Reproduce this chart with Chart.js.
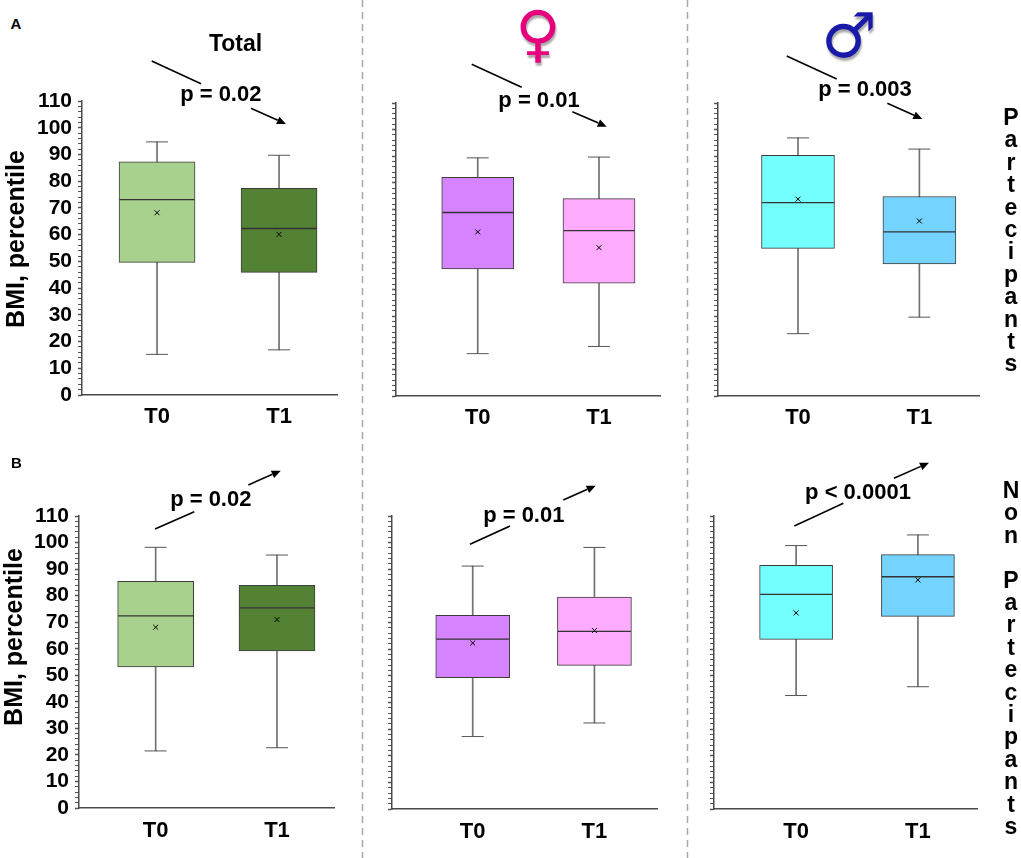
<!DOCTYPE html>
<html><head><meta charset="utf-8">
<script src="https://cdn.jsdelivr.net/npm/chart.js@4.4.1/dist/chart.umd.min.js"></script>
<style>
html,body{margin:0;padding:0;background:#fff;}
#root{position:relative;width:1021px;height:858px;overflow:hidden;font-family:"Liberation Sans",Arial,sans-serif;background:#fff;}
canvas{position:absolute;}
.t{position:absolute;font-weight:bold;color:#000;white-space:nowrap;transform:translate(-50%,-50%);line-height:1;}
.v{position:absolute;font-weight:bold;color:#000;writing-mode:vertical-rl;text-orientation:upright;font-size:23px;letter-spacing:-3.6px;line-height:24px;white-space:pre;}
svg{position:absolute;left:0;top:0;pointer-events:none;}
</style></head><body><div id="root"></div>
<script>
// ---------- data ----------
const categories = ['T0', 'T1'];
const yTickLabels = ['0','10','20','30','40','50','60','70','80','90','100','110'];
const panelNames = ['Partecipants Total','Partecipants Female','Partecipants Male','Non Partecipants Total','Non Partecipants Female','Non Partecipants Male'];
const whiskerLow  = [[15.2,16.9],[15.9,18.6],[23.4,29.6],[21.5,22.7],[27.2,32.3],[42.6,45.9]];
const quartile1   = [[49.6,45.9],[47.7,42.4],[55.4,49.6],[53.1,59.2],[49.3,53.9],[63.7,72.3]];
const medians     = [[73.1,62.3],[68.9,62.1],[72.6,61.6],[72.4,75.4],[63.8,66.7],[80.6,87.2]];
const quartile3   = [[87.2,77.3],[82.1,74.1],[90.4,74.9],[85.4,83.9],[72.7,79.6],[91.5,95.5]];
const whiskerHigh = [[94.7,89.7],[89.4,89.7],[96.9,92.7],[98.2,95.3],[91.2,98.2],[98.9,102.9]];
const means       = [[68.2,60.1],[61.6,55.7],[73.9,65.7],[68.1,71.0],[62.3,67.0],[73.6,86.0]];
const pLabels = ['p = 0.02','p = 0.01','p = 0.003','p = 0.02','p = 0.01','p < 0.0001'];

// ---------- layout / style ----------
const FONT = '"Liberation Sans", Arial, sans-serif';
const greens = ['#a9d18e','#548235'], violets = ['#d683ff','#ffacff'], blues = ['#74ffff','#75d4ff'];
const layouts = [
  {area:[82,101,337,395], xMin:-0.615, xMax:1.475, labels:true,  boxW:76, colors:greens, xPad:1},
  {area:[396,103,660,396], xMin:-0.674, xMax:1.503, labels:false, boxW:72, colors:violets, xPad:1},
  {area:[718,103,979,396], xMin:-0.659, xMax:1.491, labels:false, boxW:73, colors:blues, xPad:1},
  {area:[79,516,334,808], xMin:-0.632, xMax:1.470, labels:true,  boxW:76, colors:greens, xPad:2},
  {area:[392,516,657,809], xMin:-0.663, xMax:1.514, labels:false, boxW:74, colors:violets, xPad:2},
  {area:[714,516,977,809], xMin:-0.674, xMax:1.485, labels:false, boxW:73, colors:blues, xPad:2}
];
const root = document.getElementById('root');
const PT = 46, PR = 46, HX = 46;

layouts.forEach((L, i) => {
  const wy = L.labels ? 62 : 46;
  const [l, t, r, b] = L.area;
  const cv = document.createElement('canvas');
  const cw = (r - l) + wy + PR, ch = (b - t) + PT + HX;
  cv.width = cw; cv.height = ch;
  cv.style.left = (l - wy) + 'px'; cv.style.top = (t - PT) + 'px';
  cv.style.width = cw + 'px'; cv.style.height = ch + 'px';
  cv.setAttribute('aria-label', panelNames[i]);
  root.appendChild(cv);
  const pts = arr => categories.map((c, k) => ({x: k, y: arr[i][k]}));
  new Chart(cv, {
    type: 'bar',
    data: {datasets: [
      {type:'bar', label:'whisker', data: categories.map((c,k)=>({x:k, y:[whiskerLow[i][k], whiskerHigh[i][k]]})),
        backgroundColor:'#707070', borderWidth:0, barThickness:1, grouped:false, order:4},
      {type:'bar', label:'box', data: categories.map((c,k)=>({x:k, y:[quartile1[i][k], quartile3[i][k]]})),
        backgroundColor:L.colors, borderColor:'#3c3c3c', borderWidth:1, borderSkipped:false, barThickness:L.boxW, grouped:false, order:3},
      {type:'line', label:'capHigh', data: pts(whiskerHigh), showLine:false, pointStyle:'line', pointRadius:11, pointHoverRadius:11,
        pointBorderColor:'#555', pointBorderWidth:1, order:2},
      {type:'line', label:'capLow', data: pts(whiskerLow), showLine:false, pointStyle:'line', pointRadius:11, pointHoverRadius:11,
        pointBorderColor:'#555', pointBorderWidth:1, order:2},
      {type:'line', label:'median', data: pts(medians), showLine:false, pointStyle:'line', pointRadius:L.boxW/2 - 0.5, pointHoverRadius:L.boxW/2 - 0.5,
        pointBorderColor:'#333', pointBorderWidth:1.3, order:1},
      {type:'line', label:'mean', data: pts(means), showLine:false, pointStyle:'crossRot', pointRadius:3.5, pointHoverRadius:3.5,
        pointBorderColor:'#000', pointBorderWidth:1, order:0}
    ]},
    options: {
      responsive:false, maintainAspectRatio:false, animation:false,
      layout:{padding:{top:PT, right:PR, left:0, bottom:0}},
      plugins:{legend:{display:false}, tooltip:{enabled:false}},
      scales:{
        x:{type:'linear', min:L.xMin, max:L.xMax, offset:false,
          afterBuildTicks: s => { s.ticks = categories.map((c,k)=>({value:k})); },
          afterFit: s => { s.height = HX; },
          ticks:{callback: v => categories[v] ?? '', autoSkip:false, maxRotation:0, padding:L.xPad, color:'#000',
            font:{family:FONT, size:22, weight:'bold'}},
          grid:{display:false},
          border:{display:true, color:'#4a4a4a', width:1.5}},
        y:{type:'linear', min:0, max:110,
          afterBuildTicks: s => { const a=[]; for (let v=0; v<=110; v+=2) a.push({value:v}); s.ticks = a; },
          afterFit: s => { s.width = wy; },
          ticks:{autoSkip:false, padding:6, color:'#000', font:{family:FONT, size:21, weight:'bold'},
            callback: v => (L.labels && v % 10 === 0) ? yTickLabels[v/10] : ''},
          grid:{display:true, drawOnChartArea:false, drawTicks:true, tickLength:4, tickColor:'#555',
            tickWidth: c => (c.tick && c.tick.value % 10 === 0) ? 1.5 : 1},
          border:{display:true, color:'#4a4a4a', width:1.5}}
      }
    }
  });
});

// ---------- text ----------
function addText(txt, x, y, size, extra) {
  const d = document.createElement('div');
  d.className = 't'; d.textContent = txt;
  d.style.left = x + 'px'; d.style.top = y + 'px'; d.style.fontSize = size + 'px';
  if (extra) Object.assign(d.style, extra);
  root.appendChild(d); return d;
}
addText('A', 16, 22.5, 15);
addText('B', 16.5, 462, 15);
addText('Total', 235.5, 43, 23);
addText('BMI, percentile', 15, 238.5, 25, {transform:'translate(-50%,-50%) rotate(-90deg)'});
addText('BMI, percentile', 13, 636.5, 25, {transform:'translate(-50%,-50%) rotate(-90deg)'});
const pPos = [[220.8,94],[539,100],[865,89],[210.8,499],[523.8,514.5],[858,492]];
pLabels.forEach((p, k) => addText(p, pPos[k][0], pPos[k][1], 22));
addText('\u2640', 538, 34, 62, {color:'#e6007e', fontFamily:'"DejaVu Sans", sans-serif', fontWeight:'bold', textShadow:'1px 3px 2px #aaa'});
addText('\u2642', 849, 36, 62, {color:'#1a1aa8', fontFamily:'"DejaVu Sans", sans-serif', fontWeight:'bold', textShadow:'1px 3px 2px #aaa'});
function addVertical(txt, x, y) {
  const d = document.createElement('div');
  d.className = 'v'; d.textContent = txt;
  d.style.left = x + 'px'; d.style.top = y + 'px';
  root.appendChild(d);
}
addVertical('Partecipants', 999, 104);
addVertical('Non Partecipants', 999, 477);

// ---------- decorations (separators, trend arrows) ----------
const NS = 'http://www.w3.org/2000/svg';
const svg = document.createElementNS(NS, 'svg');
svg.setAttribute('width', 1021); svg.setAttribute('height', 858);
root.appendChild(svg);
function el(name, attrs) { const e = document.createElementNS(NS, name); for (const k in attrs) e.setAttribute(k, attrs[k]); svg.appendChild(e); return e; }
[362.5, 687.5].forEach(x => el('line', {x1:x, y1:0, x2:x, y2:858, stroke:'#a8a8a8', 'stroke-width':1.5, 'stroke-dasharray':'7 5'}));
function seg(x1,y1,x2,y2){ el('line',{x1,y1,x2,y2,stroke:'#000','stroke-width':1.6}); }
function arrow(x1,y1,x2,y2){
  const a = Math.atan2(y2-y1, x2-x1), L = 9, w = 4;
  const bx = x2 - L*Math.cos(a), by = y2 - L*Math.sin(a);
  seg(x1,y1,bx,by);
  const p = [[x2,y2],[bx + w*Math.sin(a), by - w*Math.cos(a)],[bx - w*Math.sin(a), by + w*Math.cos(a)]];
  el('polygon',{points:p.map(q=>q.join(',')).join(' '), fill:'#000'});
}
seg(151.7,61,201,83.7);   arrow(251,108.3,286,124);
seg(471.7,64.3,521.7,87.3); arrow(572.3,111.7,606.7,126.7);
seg(786.7,56,836.7,79);   arrow(887.3,103.3,922.3,119);
seg(155,529,194.3,511.7); arrow(248.3,485,280.7,470.7);
seg(470,544.3,510,526);   arrow(563.3,500,595.7,485.7);
seg(794.3,526,843.3,503.3); arrow(894,478.3,929,462.7);
</script></body></html>
